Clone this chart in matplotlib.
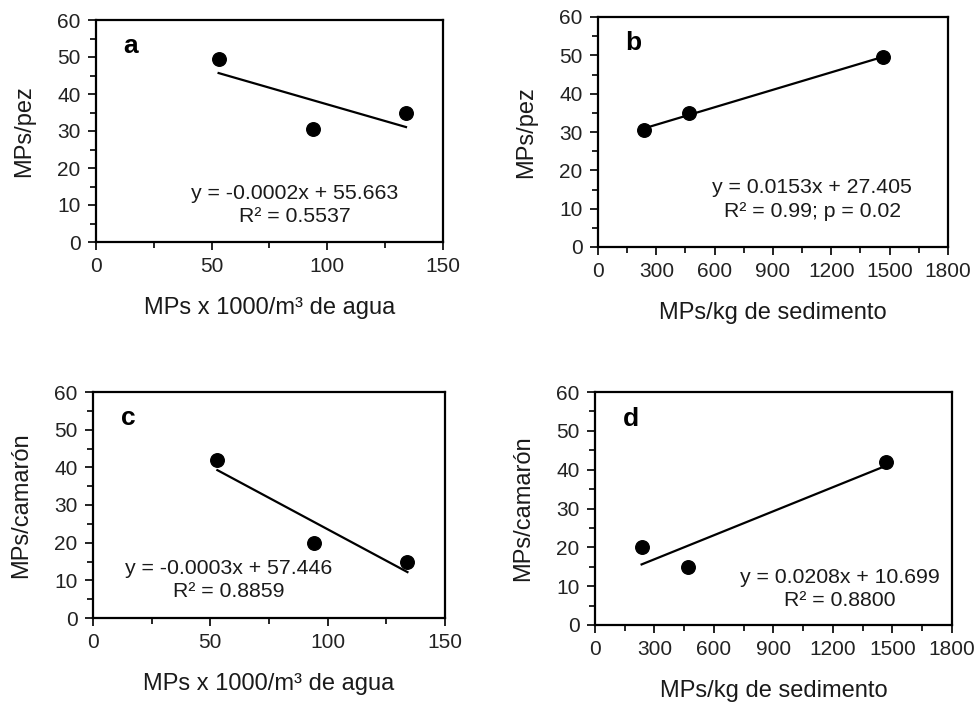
import numpy as np
import matplotlib
matplotlib.use("Agg")
import matplotlib.pyplot as plt
from matplotlib.ticker import MultipleLocator

plt.rcParams['font.family'] = ['Liberation Sans', 'DejaVu Sans']

# datos
agua_x = [53, 94, 134]
sed_x = [235, 470, 1465]
pez_agua = [49.5, 30.5, 35.0]
pez_sed = [30.5, 35.0, 49.5]
cam_agua = [42.0, 20.0, 15.0]
cam_sed = [20.0, 15.0, 42.0]

labels_x = ["MPs x 1000/m³ de agua", "MPs/kg de sedimento"]
labels_y = ["MPs/pez", "MPs/camarón"]
ecuaciones = [
    "y = -0.0002x + 55.663\nR² = 0.5537",
    "y = 0.0153x + 27.405\nR² = 0.99; p = 0.02",
    "y = -0.0003x + 57.446\nR² = 0.8859",
    "y = 0.0208x + 10.699\nR² = 0.8800",
]

W, H = 979, 702
fig = plt.figure(figsize=(W / 100, H / 100), dpi=100)


def px_axes(l, t, r, b):
    return fig.add_axes([l / W, 1 - b / H, (r - l) / W, (b - t) / H])


paneles = [
    # (caja en px, x, y, xmax, xmajor, xminor, letra, pos texto, label x, label y)
    ((96, 20, 443, 242), agua_x, pez_agua, 150, 50, 25, "a", (0.573, 0.167), 0, 0),
    ((598, 17, 948, 247), sed_x, pez_sed, 1800, 300, 150, "b", (0.612, 0.207), 1, 0),
    ((93, 392, 445, 618), agua_x, cam_agua, 150, 50, 25, "c", (0.386, 0.168), 0, 1),
    ((595, 392, 952, 625), sed_x, cam_sed, 1800, 300, 150, "d", (0.686, 0.155), 1, 1),
]

for i, (caja, x, y, xmax, xmaj, xmin, letra, tpos, lx, ly) in enumerate(paneles):
    ax = px_axes(*caja)
    ax.scatter(x, y, s=95, color='black', zorder=3, clip_on=False)
    # linea de tendencia lineal
    m, c = np.polyfit(x, y, 1)
    xs = np.array([min(x), max(x)])
    ax.plot(xs, m * xs + c, color='black', lw=1.6)

    ax.set_xlim(0, xmax)
    ax.set_ylim(0, 60)
    ax.xaxis.set_major_locator(MultipleLocator(xmaj))
    ax.xaxis.set_minor_locator(MultipleLocator(xmin))
    ax.yaxis.set_major_locator(MultipleLocator(10))
    ax.yaxis.set_minor_locator(MultipleLocator(5))
    ax.tick_params(which='major', direction='out', length=6, width=1.3,
                   labelsize=15, pad=5, colors='#111111', labelcolor='#222222')
    ax.tick_params(which='minor', direction='out', length=4, width=1.2)
    for sp in ax.spines.values():
        sp.set_linewidth(1.6)
        sp.set_color('black')

    ax.set_xlabel(labels_x[lx], fontsize=17, labelpad=15, color='#1a1a1a')
    ax.set_ylabel(labels_y[ly], fontsize=17, labelpad=16, color='#1a1a1a')

    ax.text(0.10, 0.885, letra, transform=ax.transAxes, fontsize=19,
            fontweight='bold', ha='center', va='center')
    ax.text(tpos[0], tpos[1], ecuaciones[i], transform=ax.transAxes,
            fontsize=15.3, ha='center', va='center', linespacing=1.3,
            color='#1a1a1a')

fig.savefig("out.png", dpi=100)
